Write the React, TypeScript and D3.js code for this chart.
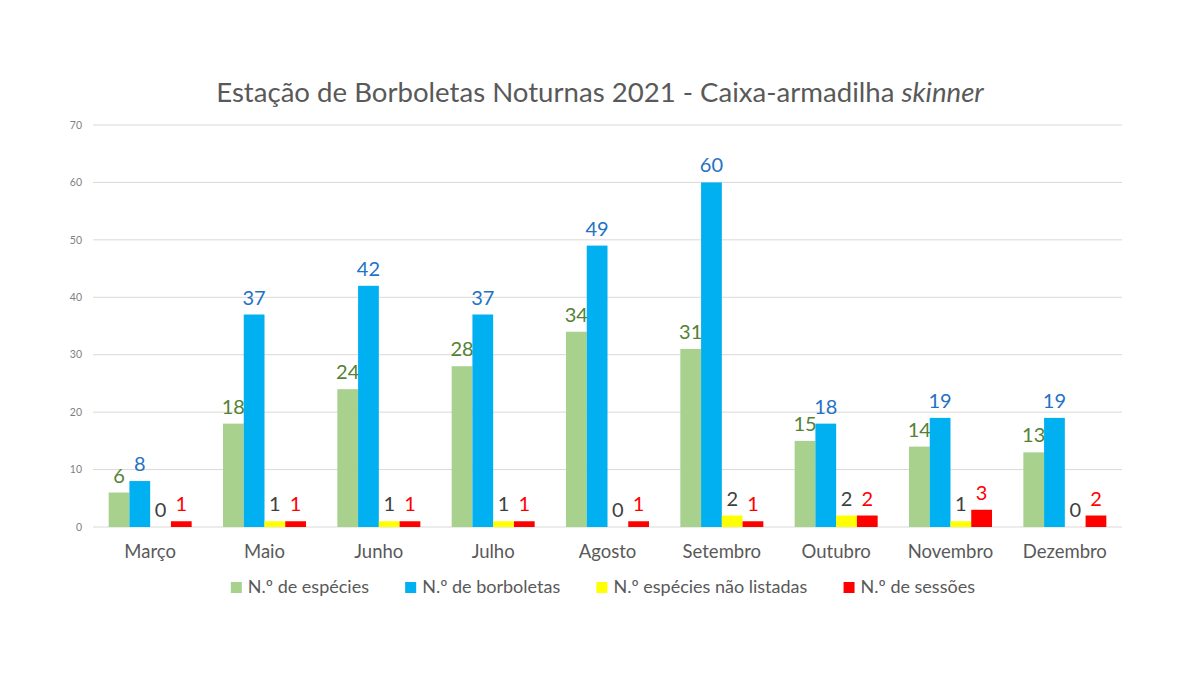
import { useEffect, useRef } from 'react';
import * as d3 from 'd3';

// Chart data
const months = ['Março', 'Maio', 'Junho', 'Julho', 'Agosto', 'Setembro', 'Outubro', 'Novembro', 'Dezembro'];
const especies = [6, 18, 24, 28, 34, 31, 15, 14, 13];
const borboletas = [8, 37, 42, 37, 49, 60, 18, 19, 19];
const naoListadas = [0, 1, 1, 1, 0, 2, 2, 1, 0];
const sessoes = [1, 1, 1, 1, 1, 1, 2, 3, 2];
const seriesNames = ['N.º de espécies', 'N.º de borboletas', 'N.º espécies não listadas', 'N.º de sessões'];
const yTicks = [0, 10, 20, 30, 40, 50, 60, 70];

const barColors = ['#a9d18e', '#00b0f0', '#ffff00', '#ff0000'];
const labelColors = ['#548235', '#1f72c4', '#404040', '#ff0000'];
const FONT = 'Lato, "Open Sans", sans-serif';

const App = () => {
  const chartRef = useRef<SVGSVGElement>(null);

  useEffect(() => {
    if (!chartRef.current) return;
    const svg = d3.select(chartRef.current);
    svg.selectAll('*').remove();

    const width = 1200;
    const height = 675;
    const left = 93;
    const right = 1122;
    const top = 125;
    const bottom = 527;

    svg
      .attr('width', width)
      .attr('height', height)
      .style('display', 'block')
      .style('position', 'absolute')
      .style('left', '0px')
      .style('top', '0px');
    svg.append('rect').attr('width', width).attr('height', height).attr('fill', '#fff');

    const allSeries = [especies, borboletas, naoListadas, sessoes];

    const x0 = d3.scaleBand<string>().domain(months).range([left, right]).paddingInner(0.274).paddingOuter(0.137);
    const x1 = d3.scaleBand<number>().domain([0, 1, 2, 3]).range([0, x0.bandwidth()]);
    const y = d3.scaleLinear().domain([0, 70]).range([bottom, top]);

    // Title
    const title = svg
      .append('text')
      .attr('x', width / 2)
      .attr('y', 102)
      .attr('text-anchor', 'middle')
      .attr('font-family', FONT)
      .attr('font-size', 27.6)
      .attr('fill', '#595959');
    title.append('tspan').text('Estação de Borboletas Noturnas 2021 - Caixa-armadilha ');
    title.append('tspan').attr('font-style', 'italic').text('skinner');

    // Gridlines + tick labels
    const grid = svg.append('g');
    grid
      .selectAll('line')
      .data(yTicks)
      .join('line')
      .attr('x1', left)
      .attr('x2', right)
      .attr('y1', (d) => y(d))
      .attr('y2', (d) => y(d))
      .attr('stroke', '#d9d9d9')
      .attr('stroke-width', 1);
    grid
      .selectAll('text')
      .data(yTicks)
      .join('text')
      .attr('x', 82)
      .attr('y', (d) => y(d))
      .attr('dy', '0.35em')
      .attr('text-anchor', 'end')
      .attr('font-family', FONT)
      .attr('font-size', 10.5)
      .attr('fill', '#7f7f7f')
      .text((d) => d);

    // Bars
    allSeries.forEach((values, si) => {
      const g = svg.append('g');
      g.selectAll('rect')
        .data(values)
        .join('rect')
        .attr('x', (_, i) => (x0(months[i]) ?? 0) + (x1(si) ?? 0))
        .attr('y', (d) => y(d))
        .attr('width', x1.bandwidth())
        .attr('height', (d) => y(0) - y(d))
        .attr('fill', barColors[si]);
      g.selectAll('text')
        .data(values)
        .join('text')
        .attr('x', (_, i) => (x0(months[i]) ?? 0) + (x1(si) ?? 0) + x1.bandwidth() / 2)
        .attr('y', (d) => y(d) - 10)
        .attr('text-anchor', 'middle')
        .attr('font-family', FONT)
        .attr('font-size', 20)
        .attr('fill', labelColors[si])
        .text((d) => d);
    });

    // Category labels
    svg
      .append('g')
      .selectAll('text')
      .data(months)
      .join('text')
      .attr('x', (d) => (x0(d) ?? 0) + x0.bandwidth() / 2)
      .attr('y', 558)
      .attr('text-anchor', 'middle')
      .attr('font-family', FONT)
      .attr('font-size', 18.5)
      .attr('fill', '#595959')
      .text((d) => d);

    // Legend
    const legend = svg.append('g');
    const items = legend
      .selectAll('g')
      .data(seriesNames)
      .join('g');
    items
      .append('rect')
      .attr('width', 11)
      .attr('height', 11)
      .attr('y', 582)
      .attr('fill', (_, i) => barColors[i]);
    items
      .append('text')
      .attr('x', 17)
      .attr('y', 593)
      .attr('font-family', FONT)
      .attr('font-size', 18)
      .attr('fill', '#595959')
      .text((d) => d);

    const gap = 36;
    const widths = items.nodes().map((n) => (n as SVGGElement).getBBox().width);
    const total = d3.sum(widths) + gap * (widths.length - 1);
    let cx = 603 - total / 2;
    items.attr('transform', (_, i) => {
      const t = `translate(${cx},0)`;
      cx += widths[i] + gap;
      return t;
    });
  }, []);

  return <svg ref={chartRef} />;
};

export default App;
